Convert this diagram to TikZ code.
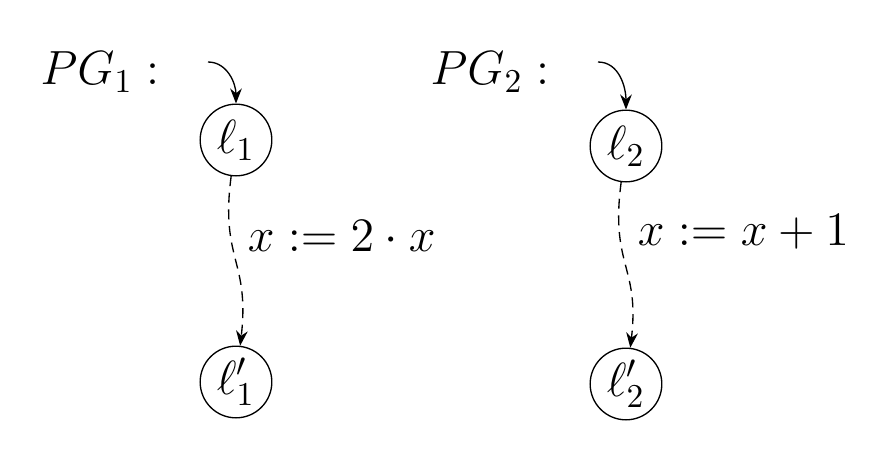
\documentclass[tikz,border=0pt]{standalone}
\usetikzlibrary{arrows.meta}
\begin{document}
\begin{tikzpicture}[x=0.3pt,y=-0.3pt,font=\Large,
 st/.style={circle,draw,minimum size=21.5pt,inner sep=0pt},
 ar/.style={-{Stealth[length=4.5pt,width=3.5pt]},thin}]
\useasboundingbox (0,0) rectangle (890,466);
\node[st] (a) at (236,140) {$\ell_1$};
\node[st] (a2) at (236,382) {$\ell_1'$};
\node[st] (b) at (626,146) {$\ell_2$};
\node[st] (b2) at (626,384) {$\ell_2'$};
\node (pg1) at (100,72) {$PG_1:$};
\node (pg2) at (490,72) {$PG_2:$};
\coordinate (s1) at (208,62);
\coordinate (s2) at (598,62);
\draw[ar] (s1) to[out=0,in=90] (a);
\draw[ar] (s2) to[out=0,in=90] (b);
\draw[ar,dash pattern=on 3pt off 2pt] (a) .. controls (220,260) and (250,260) .. (a2);
\draw[ar,dash pattern=on 3pt off 2pt] (b) .. controls (610,266) and (640,266) .. (b2);
\node[anchor=west] (l1) at (236,236) {$x := 2\cdot x$};
\node[anchor=west] (l2) at (626,232) {$x := x+1$};
\end{tikzpicture}
\end{document}
